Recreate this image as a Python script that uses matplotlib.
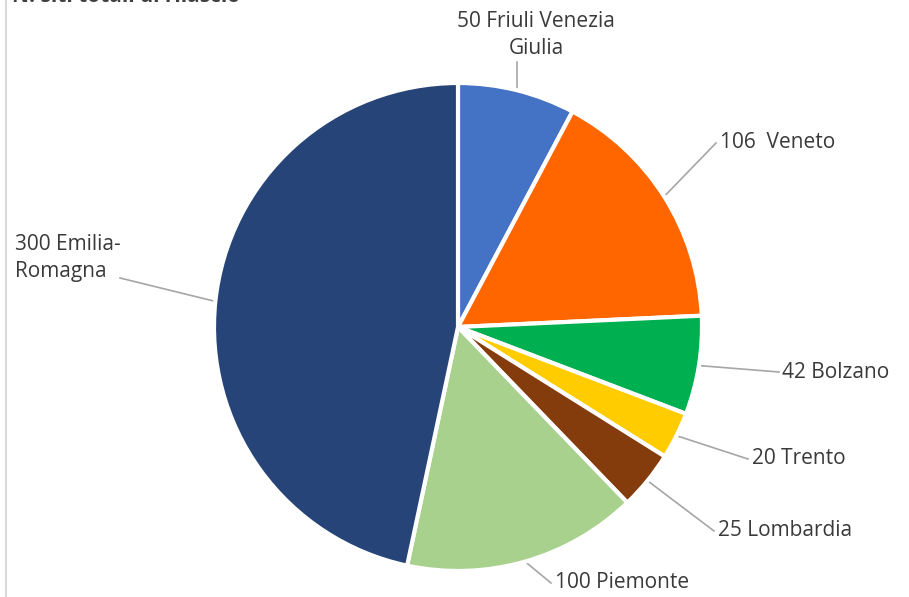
import numpy as np
import matplotlib.pyplot as plt

regions = ["Friuli Venezia\nGiulia", "Veneto", "Bolzano", "Trento",
           "Lombardia", "Piemonte", "Emilia-\nRomagna"]
values = [50, 106, 42, 20, 25, 100, 300]
colors = ["#4472C4", "#FF6600", "#00B050", "#FFCC00",
          "#843C0C", "#A9D18E", "#264478"]
labels = ["50 Friuli Venezia\nGiulia", "106  Veneto", "42 Bolzano", "20 Trento",
          "25 Lombardia", "100 Piemonte", "300 Emilia-\nRomagna"]

W, H = 909, 597
fig = plt.figure(figsize=(W / 100, H / 100), dpi=100)
ax = fig.add_axes([0, 0, 1, 1])

cx, cy, r = 458, H - 327, 244
wedges, _ = ax.pie(values, colors=colors, startangle=90, counterclock=False,
                   center=(cx, cy), radius=r,
                   wedgeprops=dict(edgecolor="white", linewidth=3))

# label text positions (pixel coords from top-left) and alignment
txt_pos = [(536, 35, "center"), (720, 143, "left"), (782, 372, "left"),
           (752, 459, "left"), (718, 531, "left"), (555, 583, "left"),
           (15, 258, "left")]
line_end = [(517, 62), (716, 143), (779, 372), (748, 459),
            (714, 531), (551, 583), (120, 278)]

for w, lab, (tx, ty, ha), (lx, ly) in zip(wedges, labels, txt_pos, line_end):
    ang = np.deg2rad((w.theta1 + w.theta2) / 2)
    px, py = cx + r * np.cos(ang), cy + r * np.sin(ang)
    ax.plot([px, lx], [py, H - ly], color="#A6A6A6", lw=1.2, zorder=0)
    ax.text(tx, H - ty, lab, ha=ha, va="center", fontsize=15,
            family="Open Sans", color="#3A3A3A", linespacing=1.4)

# title cut off at the top of the image (only its lower edge shows)
ax.text(12, H + 3, "N. siti totali di rilascio", ha="left", va="center",
        fontsize=15, fontweight="bold", family="Open Sans", color="#404040")
ax.plot([6, 6], [0, H], color="#D9D9D9", lw=1.5)

ax.set_xlim(0, W)
ax.set_ylim(0, H)
ax.set_aspect("equal")
ax.axis("off")

fig.savefig("out.png", dpi=100)
